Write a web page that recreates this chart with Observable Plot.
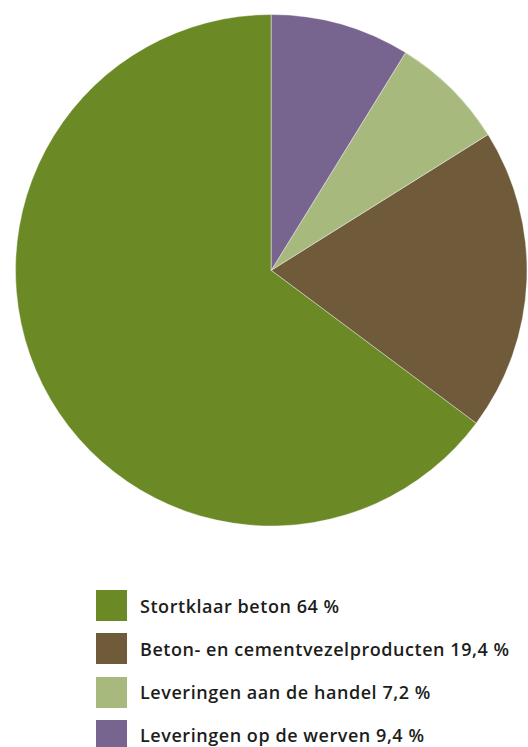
<!DOCTYPE html>
<html>
<head>
<meta charset="utf-8">
<script src="https://cdn.jsdelivr.net/npm/d3@7"></script>
<script src="https://cdn.jsdelivr.net/npm/@observablehq/plot@0.6"></script>
<style>
  html, body { margin: 0; padding: 0; background: #fff; }
  #chart svg { display: block; }
  #legend { position: absolute; left: 96px; top: 590px; font-family: "Open Sans", sans-serif; font-weight: 600; font-size: 18px; letter-spacing: 0.55px; color: #1d1d1b; }
  .row { display: flex; align-items: center; height: 31px; margin-bottom: 12.3px; white-space: nowrap; }
  .sw { width: 31px; height: 31px; margin-right: 13px; flex: none; }
</style>
</head>
<body>
<div id="chart"></div>
<div id="legend"></div>
<script>
const categories = ["Stortklaar beton", "Beton- en cementvezelproducten", "Leveringen aan de handel", "Leveringen op de werven"];
// slice shares as drawn in the picture (measured from the slice angles)
const values = [64.8, 19.1, 7.3, 8.8];
// percentages as printed in the legend
const labels = ["64 %", "19,4 %", "7,2 %", "9,4 %"];
const colors = ["#6b8a26", "#6f5a39", "#a8b97d", "#776590"];

const data = categories.map((c, i) => ({category: c, value: values[i], label: labels[i]}));

const pieMark = (index, scales, vals, dimensions, context) => {
  const cx = scales.x(0), cy = scales.y(0);
  const r = Math.abs(scales.x(1) - scales.x(0));
  const arcs = d3.pie().sort(null).value(d => d.value).startAngle(0).endAngle(-2 * Math.PI)(data);
  const arc = d3.arc().innerRadius(0).outerRadius(r);
  const g = d3.create("svg:g").attr("transform", `translate(${cx},${cy})`);
  g.selectAll("path").data(arcs).join("path")
    .attr("d", arc)
    .attr("fill", d => scales.color(d.data.category))
    .attr("stroke", "#fff")
    .attr("stroke-width", 0.4);
  return g.node();
};

const chart = Plot.plot({
  width: 528,
  height: 560,
  margin: 0,
  x: {domain: [-1, 1], range: [15.5, 527], axis: null},
  y: {domain: [-1, 1], range: [526, 14.5], axis: null},
  color: {domain: categories, range: colors},
  marks: [pieMark]
});
document.getElementById("chart").appendChild(chart);

const legend = d3.select("#legend");
data.forEach((d, i) => {
  const row = legend.append("div").attr("class", "row");
  row.append("div").attr("class", "sw").style("background", colors[i]);
  row.append("span").text(`${d.category} ${d.label}`);
});
</script>
</body>
</html>
